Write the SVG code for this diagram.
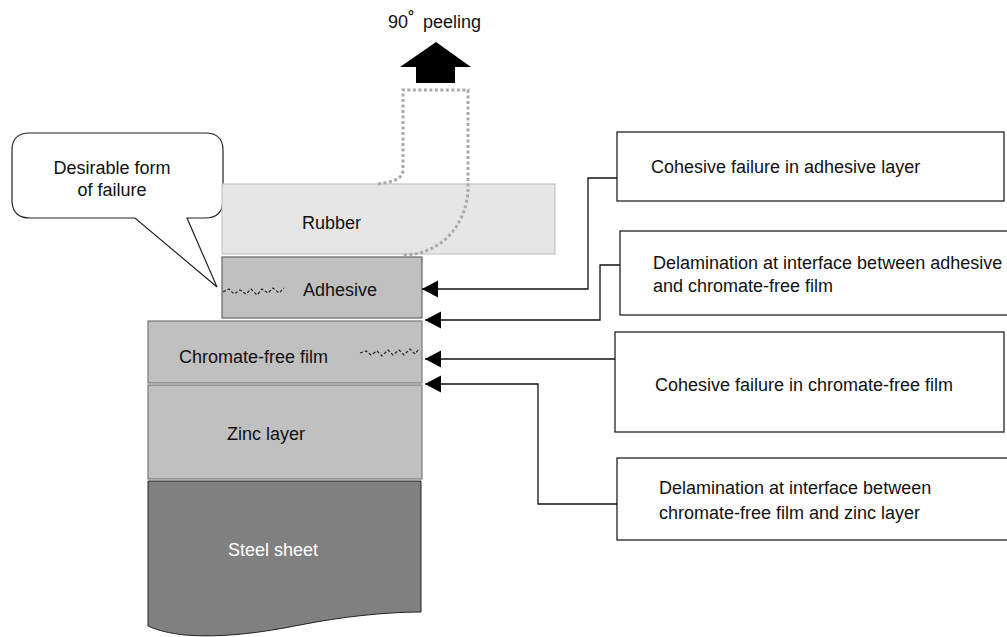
<svg xmlns="http://www.w3.org/2000/svg" width="1007" height="637" viewBox="0 0 1007 637">
<defs>
<style>
text{font-family:"Liberation Sans",Arial,sans-serif;font-size:18px;fill:#111}
.box{fill:#fff;stroke:#222;stroke-width:1.3}
.conn{fill:none;stroke:#111;stroke-width:1.3}
.crack{fill:none;stroke:#222;stroke-width:1.2;stroke-dasharray:3 2}
</style>
<marker id="ah" markerUnits="userSpaceOnUse" markerWidth="18" markerHeight="18" refX="16" refY="8.5" orient="auto">
<path d="M0,0 L16,8.5 L0,17 Z" fill="#000"/>
</marker>
</defs>
<rect width="1007" height="637" fill="#fff"/>

<g id="peel-arrow">
<polygon points="436,42 471,67 455,67 455,83 416,83 416,67 400,67" fill="#000"/>
<text x="388" y="28">90<tspan dy="-7" font-size="15" font-weight="bold">°</tspan></text>
<text x="423" y="28">peeling</text>
</g>

<g id="callout">
<path d="M30,133 H205 Q223,133 223,150 V200 Q223,218 205,218 H187 L217,287 L135,218 H30 Q12,218 12,200 V150 Q12,133 30,133 Z" fill="#fff" stroke="#222" stroke-width="1.2"/>
<text x="112" y="174" text-anchor="middle">Desirable form</text>
<text x="112" y="196" text-anchor="middle">of failure</text>
</g>

<g id="rubber">
<rect x="222" y="184" width="333" height="70" fill="#e6e6e6" stroke="#c4c4c4" stroke-width="1.2"/>
<text x="302" y="229">Rubber</text>
</g>

<g id="adhesive">
<rect x="222" y="257" width="200" height="61" fill="#c0c0c0" stroke="#666" stroke-width="1.2"/>
<text x="303" y="296">Adhesive</text>
<path class="crack" d="M223,292 L229,289 L234,294 L240,290 L246,294 L251,289 L257,295 L262,289 L268,293 L273,288 L279,293 L284,288"/>
</g>

<g id="chromate">
<rect x="148" y="321" width="274" height="62" fill="#c0c0c0" stroke="#777" stroke-width="1.2"/>
<text x="179" y="363">Chromate-free film</text>
<path class="crack" d="M360,353 L366,351 L371,355 L377,351 L382,356 L388,350 L393,355 L399,350 L404,355 L410,349 L415,354 L419,349"/>
</g>

<g id="zinc">
<rect x="148" y="385" width="274" height="94" fill="#c0c0c0" stroke="#777" stroke-width="1.2"/>
<text x="227" y="440">Zinc layer</text>
</g>

<g id="steel">
<path d="M148,481 H421 V612 C385,612 340,617 300,625 C260,633 220,638 185,635 C165,633 152,628 148,626 Z" fill="#808080" stroke="#222" stroke-width="1"/>
<text x="228" y="556" style="fill:#fff">Steel sheet</text>
</g>

<g id="box1">
<rect class="box" x="617" y="132" width="387" height="69"/>
<text x="651" y="173">Cohesive failure in adhesive layer</text>
</g>

<g id="box2">
<rect class="box" x="620" y="231" width="390" height="84"/>
<text x="653" y="269">Delamination at interface between adhesive</text>
<text x="653" y="292">and chromate-free film</text>
</g>

<g id="box3">
<rect class="box" x="615" y="332" width="389" height="100"/>
<text x="655" y="391">Cohesive failure in chromate-free film</text>
</g>

<g id="box4">
<rect class="box" x="617" y="458" width="393" height="82"/>
<text x="659" y="494">Delamination at interface between</text>
<text x="659" y="519">chromate-free film and zinc layer</text>
</g>

<g id="connectors">
<path class="conn" d="M617,178 H588 V289 H422" marker-end="url(#ah)"/>
<path class="conn" d="M620,265 H600 V320 H425" marker-end="url(#ah)"/>
<path class="conn" d="M615,359 H425" marker-end="url(#ah)"/>
<path class="conn" d="M617,504 H538 V384 H425" marker-end="url(#ah)"/>
<path d="M378,184 C390,182 403,180 403,170 V90 H468 V187 C468,225 440,255 403,255" fill="none" stroke="#aaa" stroke-width="3" stroke-dasharray="3 2.5"/>
</g>
</svg>
